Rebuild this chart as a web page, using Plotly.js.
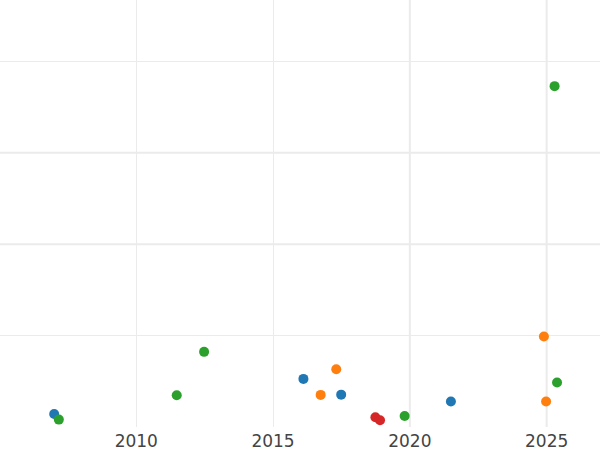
<!DOCTYPE html>
<html>
<head>
<meta charset="utf-8">
<script src="https://cdn.plot.ly/plotly-3.0.1.min.js"></script>
<style>html,body{margin:0;padding:0;background:#fff;}#chart{width:600px;height:450px;}</style>
</head>
<body>
<div id="chart"></div>
<script>
// Data
const blueX = [2007.0, 2016.11, 2017.49, 2021.5];
const blueY = [14.3, 52.6, 35.4, 27.8];
const orangeX = [2016.74, 2017.31, 2024.9, 2024.98];
const orangeY = [35.1, 63.1, 98.9, 27.8];
const greenX = [2007.17, 2011.48, 2012.48, 2019.81, 2025.29, 2025.38];
const greenY = [8.1, 34.7, 82.2, 12.1, 372.8, 48.6];
const redX = [2018.74, 2018.91];
const redY = [10.6, 7.3];
const xTicks = [2010, 2015, 2020, 2025];
const yGrid = [100, 200, 300, 400];
const thickX = [2020, 2025];
const thickY = [200, 300];

function series(x, y, color) {
  return {x: x, y: y, type: 'scatter', mode: 'markers',
    marker: {color: color, size: 10}, showlegend: false, hoverinfo: 'skip'};
}
const data = [
  series(blueX, blueY, '#1f77b4'),
  series(orangeX, orangeY, '#ff7f0e'),
  series(greenX, greenY, '#2ca02c'),
  series(redX, redY, '#d62728')
];
const shapes = [];
thickX.forEach(v => shapes.push({type: 'line', xref: 'x', yref: 'paper', x0: v, x1: v, y0: 0, y1: 1,
  line: {color: '#ebebeb', width: 2}, layer: 'below'}));
thickY.forEach(v => shapes.push({type: 'line', xref: 'paper', yref: 'y', x0: 0, x1: 1, y0: v, y1: v,
  line: {color: '#ebebeb', width: 2}, layer: 'below'}));

const layout = {
  width: 600, height: 450,
  margin: {l: 0, r: 0, t: 0, b: 23, pad: 0},
  paper_bgcolor: '#ffffff', plot_bgcolor: '#ffffff',
  font: {family: 'DejaVu Sans, sans-serif', size: 17, color: '#444444'},
  xaxis: {range: [2005.02, 2026.95], tickmode: 'array', tickvals: xTicks,
    showgrid: true, gridcolor: '#ebebeb', gridwidth: 1, zeroline: false,
    showline: false, ticks: '', ticklen: 0, ticklabelstandoff: 2},
  yaxis: {range: [0, 467], tickmode: 'array', tickvals: yGrid, showticklabels: false,
    showgrid: true, gridcolor: '#ebebeb', gridwidth: 1, zeroline: false,
    showline: false, ticks: ''},
  shapes: shapes
};
Plotly.newPlot('chart', data, layout, {displayModeBar: false, staticPlot: true});
</script>
</body>
</html>
